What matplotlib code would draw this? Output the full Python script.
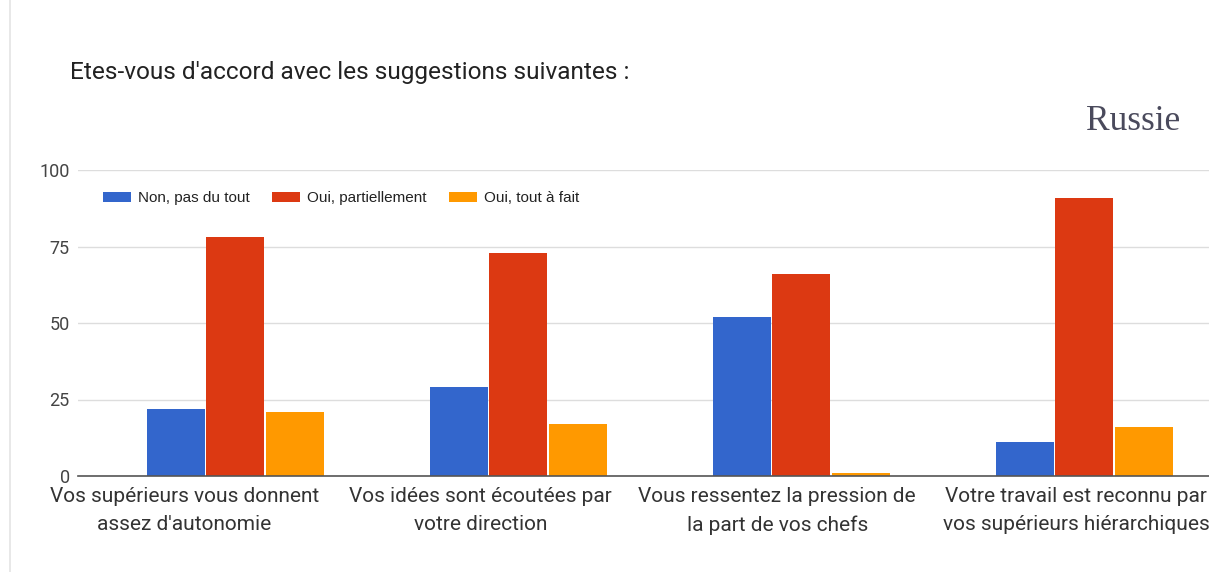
import numpy as np
import matplotlib.pyplot as plt
from matplotlib.lines import Line2D

categories = [
    "Vos supérieurs vous donnent\nassez d'autonomie",
    "Vos idées sont écoutées par\nvotre direction",
    "Vous ressentez la pression de\nla part de vos chefs",
    "Votre travail est reconnu par\nvos supérieurs hiérarchiques",
]
series_names = ["Non, pas du tout", "Oui, partiellement", "Oui, tout à fait"]
non_pas_du_tout = [22, 29, 52, 11]
oui_partiellement = [78, 73, 66, 91]
oui_tout_a_fait = [21, 17, 1, 16]
yticks = [0, 25, 50, 75, 100]

colors = ["#3366cc", "#dc3912", "#ff9900"]

plt.rcParams['font.family'] = ['Roboto', 'DejaVu Sans']

W, H = 1209, 572
fig = plt.figure(figsize=(W / 100, H / 100), dpi=100)
ax = fig.add_axes([78 / W, (H - 476) / H, (W - 78) / W, 306 / H])

x = np.arange(len(categories))
bw = 0.205
step = 0.21
for i, (vals, name) in enumerate(zip([non_pas_du_tout, oui_partiellement, oui_tout_a_fait], series_names)):
    ax.bar(x + (i - 1) * step, vals, width=bw, color=colors[i], label=name, zorder=3)

ax.set_ylim(0, 100)
ax.set_xlim(-0.555, 3.44)
ax.set_yticks(yticks)
ax.set_yticklabels([str(v) for v in yticks], fontsize=13, color="#444444")
ax.yaxis.grid(True, color="#dddddd", linewidth=1, zorder=0)
ax.tick_params(axis="y", length=0, pad=6)
# the labels sit a little left of their bar groups in the original
label_shift = np.array([-0.18, -0.133, -0.085, -0.03])
ax.set_xticks(x + label_shift)
ax.set_xticklabels(categories, fontsize=15, color="#333333", linespacing=1.6)
ax.tick_params(axis="x", length=0, pad=8)
for s in ["top", "right", "left"]:
    ax.spines[s].set_visible(False)
ax.spines["bottom"].set_color("#555555")
ax.spines["bottom"].set_linewidth(1.2)
ax.spines["bottom"].set_zorder(4)

leg = ax.legend(loc="upper left", bbox_to_anchor=(11 / (W - 78), 0.975), ncol=3, frameon=False,
                prop={"family": ["Liberation Sans", "DejaVu Sans"], "size": 11},
                handlelength=1.85, handleheight=0.65, columnspacing=1.45,
                handletextpad=0.45, labelcolor="#222222")

fig.text(70 / W, 1 - 73 / H, "Etes-vous d'accord avec les suggestions suivantes :",
         fontsize=17.6, color="#222222", va="center", ha="left")
fig.text(1180 / W, 1 - 121 / H, "Russie", fontsize=25.5, color="#4a4a5c",
         family=["Liberation Serif", "DejaVu Serif"], va="center", ha="right")

fig.add_artist(Line2D([10 / W, 10 / W], [0, 1], transform=fig.transFigure,
                      color="#e4e4e4", linewidth=1.2))

fig.savefig("out.png", dpi=100)
